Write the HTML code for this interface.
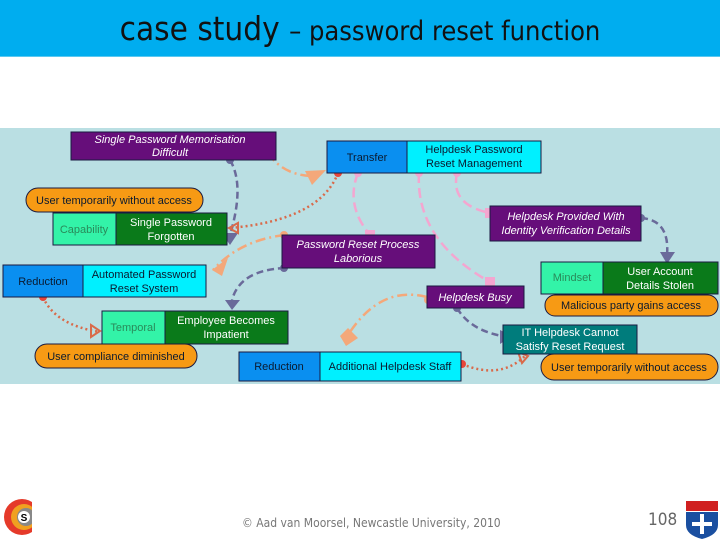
<!DOCTYPE html>
<html><head><meta charset="utf-8"><style>
body{margin:0;width:720px;height:540px;background:#fff;overflow:hidden;font-family:"Liberation Sans",sans-serif;position:relative}
.hdr{position:absolute;left:0;top:0;width:720px;height:56px;background:#00adef;border-bottom:1px solid #5ac8f0}
.ttl{position:absolute;left:0;width:720px;top:9px;text-align:center;font-family:"DejaVu Sans Condensed","DejaVu Sans",sans-serif;font-size:33px;color:#111;line-height:40px}
.ttl small{font-size:27px}
svg{position:absolute;left:0;top:0}
.foot{position:absolute;left:242px;top:516px;font-family:"DejaVu Sans Condensed","DejaVu Sans",sans-serif;font-size:12px;color:#777}
.num{position:absolute;left:648px;top:510px;font-family:"DejaVu Sans Condensed",sans-serif;font-size:17px;color:#666}
</style></head><body>
<div class="hdr"></div>
<div class="ttl">case study <small>– password reset function</small></div>
<svg width="720" height="540" font-family="Liberation Sans, sans-serif" font-size="11">
<rect x="0" y="128" width="720" height="256" fill="#badfe3"/>
<g fill="none" stroke-width="2.5">
<path d="M268 153 Q285 178 320 176" stroke="#f4a87a" stroke-dasharray="10 4 2 4"/>
<path d="M230 160 Q245 185 230 235" stroke="#6a6a9a" stroke-dasharray="7 4"/>
<path d="M338 173 Q320 220 230 228" stroke="#d96a4a" stroke-dasharray="2 3"/>
<path d="M285 235 Q240 240 213 270" stroke="#f4a87a" stroke-dasharray="10 4 2 4"/>
<path d="M285 268 Q240 270 232 300" stroke="#6a6a9a" stroke-dasharray="7 4"/>
<path d="M43 297 Q55 325 100 332" stroke="#d96a4a" stroke-dasharray="2 3"/>
<path d="M358 173 Q345 205 370 235" stroke="#f4a6d0" stroke-dasharray="10 5"/>
<path d="M419 173 Q415 240 490 282" stroke="#f4a6d0" stroke-dasharray="10 5"/>
<path d="M457 173 Q450 205 490 213" stroke="#f4a6d0" stroke-dasharray="10 5"/>
<path d="M641 218 Q670 220 667 255" stroke="#6a6a9a" stroke-dasharray="7 4"/>
<path d="M427 297 Q380 285 348 335" stroke="#f4a87a" stroke-dasharray="10 4 2 4"/>
<path d="M457 308 Q470 330 502 336" stroke="#6a6a9a" stroke-dasharray="7 4"/>
<path d="M462 364 Q500 380 525 356" stroke="#d96a4a" stroke-dasharray="2 3"/>
</g>
<g fill="#f4a87a"><polygon points="305,171 326,170 312,185"/><polygon points="212,270 228,258 222,276"/><polygon points="340,336 348,328 358,338 346,346"/></g>
<g fill="#6a6a9a"><polygon points="222,233 238,233 230,245"/><polygon points="225,300 240,300 232,310"/><polygon points="660,252 675,252 667,264"/><polygon points="500,330 500,344 512,336"/></g>
<g fill="none" stroke="#d96a4a" stroke-width="2"><polygon points="238,223 238,233 229,228"/><polygon points="91,325 91,337 100,331"/><polygon points="518,352 528,356 522,363"/></g>
<g fill="#e8453a"><circle cx="338" cy="173" r="4"/><circle cx="43" cy="297" r="4"/><circle cx="462" cy="364" r="4"/></g>
<g fill="#f4a87a"><circle cx="268" cy="153" r="4"/><circle cx="284" cy="235" r="4"/><circle cx="428" cy="300" r="4"/></g>
<g fill="#6a6a9a"><circle cx="230" cy="160" r="4"/><circle cx="284" cy="268" r="4"/><circle cx="641" cy="218" r="4"/><circle cx="457" cy="308" r="4"/></g>
<g fill="#f4a6d0"><circle cx="358" cy="173" r="4"/><circle cx="419" cy="173" r="4"/><circle cx="457" cy="173" r="4"/><rect x="365" y="230" width="10" height="10"/><rect x="485" y="277" width="10" height="10"/><rect x="485" y="208" width="10" height="10"/></g>
<g stroke="#1a1a40" stroke-width="1">
<rect x="71" y="132" width="205" height="28" fill="#660e7a"/>
<rect x="327" y="141" width="80" height="32" fill="#0a8ff0"/><rect x="407" y="141" width="134" height="32" fill="#00f0ff"/>
<rect x="26" y="188" width="177" height="24" rx="12" fill="#f79a14"/>
<rect x="53" y="213" width="63" height="32" fill="#33f3a8"/><rect x="116" y="213" width="111" height="32" fill="#0a7a1a"/>
<rect x="282" y="235" width="153" height="33" fill="#660e7a"/>
<rect x="490" y="206" width="151" height="35" fill="#660e7a"/>
<rect x="3" y="265" width="80" height="32" fill="#0a8ff0"/><rect x="83" y="265" width="123" height="32" fill="#00f0ff"/>
<rect x="541" y="262" width="62" height="32" fill="#33f3a8"/><rect x="603" y="262" width="115" height="32" fill="#0a7a1a"/>
<rect x="545" y="295" width="173" height="21" rx="10" fill="#f79a14"/>
<rect x="427" y="286" width="97" height="22" fill="#660e7a"/>
<rect x="102" y="311" width="63" height="33" fill="#33f3a8"/><rect x="165" y="311" width="123" height="33" fill="#0a7a1a"/>
<rect x="35" y="344" width="162" height="24" rx="12" fill="#f79a14"/>
<rect x="503" y="325" width="134" height="29" fill="#007c7c"/>
<rect x="239" y="352" width="81" height="29" fill="#0a8ff0"/><rect x="320" y="352" width="141" height="29" fill="#00f0ff"/>
<rect x="541" y="354" width="177" height="26" rx="13" fill="#f79a14"/>
</g>
<g text-anchor="middle" fill="#fff" font-style="italic">
<text x="170" y="143">Single Password Memorisation</text><text x="170" y="156">Difficult</text>
<text x="358" y="248">Password Reset Process</text><text x="358" y="262">Laborious</text>
<text x="566" y="220">Helpdesk Provided With</text><text x="566" y="234">Identity Verification Details</text>
<text x="475" y="301">Helpdesk Busy</text>
</g>
<g text-anchor="middle" fill="#fff">
<text x="171" y="226">Single Password</text><text x="171" y="240">Forgotten</text>
<text x="660" y="275">User Account</text><text x="660" y="289">Details Stolen</text>
<text x="226" y="324">Employee Becomes</text><text x="226" y="338">Impatient</text>
<text x="570" y="336">IT Helpdesk Cannot</text><text x="570" y="350">Satisfy Reset Request</text>
</g>
<g text-anchor="middle" fill="#0a1a30">
<text x="367" y="161">Transfer</text>
<text x="474" y="153">Helpdesk Password</text><text x="474" y="167">Reset Management</text>
<text x="114" y="204">User temporarily without access</text>
<text x="43" y="285">Reduction</text>
<text x="144" y="278">Automated Password</text><text x="144" y="292">Reset System</text>
<text x="631" y="309">Malicious party gains access</text>
<text x="116" y="360">User compliance diminished</text>
<text x="279" y="370">Reduction</text><text x="390" y="370">Additional Helpdesk Staff</text>
<text x="629" y="371">User temporarily without access</text>
</g>
<g text-anchor="middle" fill="#2a8a5a"><text x="84" y="233">Capability</text><text x="572" y="281">Mindset</text><text x="133" y="331">Temporal</text></g>
<circle cx="22" cy="517" r="18" fill="#e53a2a"/><circle cx="24" cy="517" r="13" fill="#f0a020"/><circle cx="26" cy="517" r="9" fill="#888"/><rect x="32" y="496" width="12" height="42" fill="#fff"/><circle cx="24" cy="517" r="6" fill="#fff"/><text x="24" y="521" font-size="10" text-anchor="middle" font-weight="bold">S</text>
<rect x="686" y="501" width="32" height="10" fill="#d02020"/><path d="M686 512 H718 V525 Q718 535 702 539 Q686 535 686 525 Z" fill="#1a4fa0"/><path d="M700 514 h4 v8 h8 v4 h-8 v8 h-4 v-8 h-8 v-4 h8z" fill="#fff"/>
</svg>
<div class="foot">© Aad van Moorsel, Newcastle University, 2010</div>
<div class="num">108</div>
</body></html>
